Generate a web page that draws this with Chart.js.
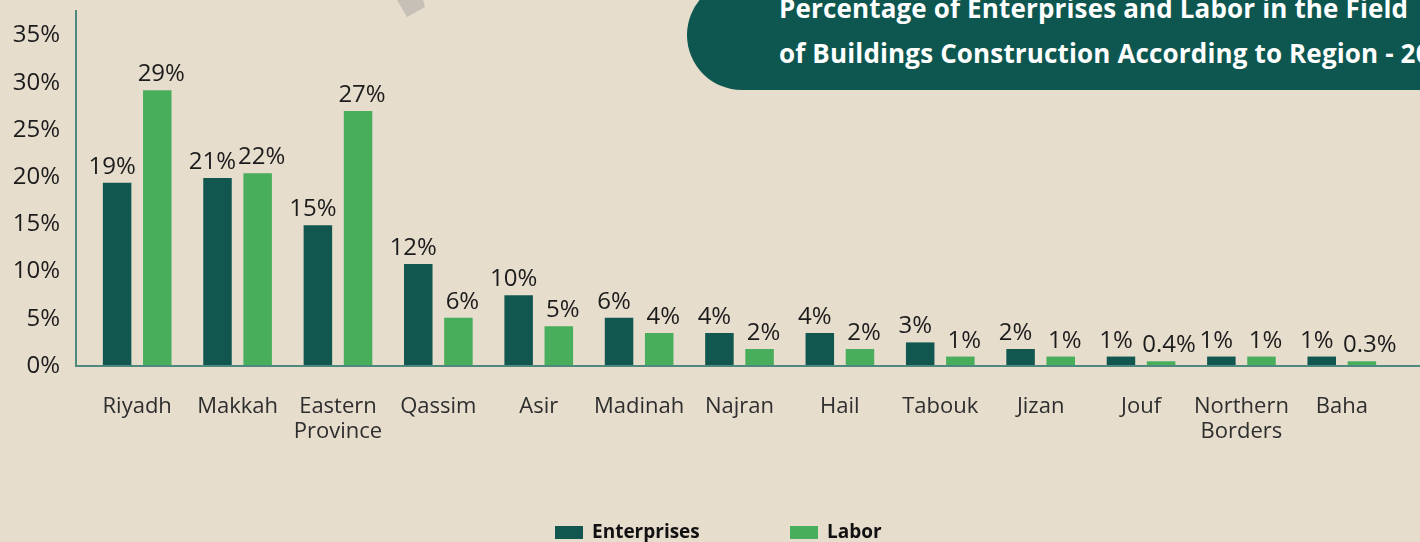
<!DOCTYPE html>
<html>
<head>
<meta charset="utf-8">
<script src="https://cdn.jsdelivr.net/npm/chart.js@4"></script>
<style>
  html, body { margin: 0; padding: 0; background: #e6ddcd; overflow: hidden; }
  #wrap { position: relative; width: 1420px; height: 542px; }
  #title {
    position: absolute; left: 687px; top: -20px; width: 800px; height: 110px;
    background: #0d5750; border-radius: 55px 0 0 55px;
    color: #fff; font-family: "Open Sans", sans-serif; font-weight: 700; font-size: 26px;
    letter-spacing: 0.15px; white-space: nowrap;
  }
  #title div { position: absolute; left: 92px; }
</style>
</head>
<body>
<div id="wrap">
  <canvas id="myChart" width="1420" height="542"></canvas>
  <div id="title">
    <div style="top: 10px;">Percentage of Enterprises and Labor in the Field</div>
    <div style="top: 55px;">of Buildings Construction According to Region - 2023</div>
  </div>
</div>
<script>
var regions = [
  "Riyadh", "Makkah", ["Eastern", "Province"], "Qassim", "Asir", "Madinah",
  "Najran", "Hail", "Tabouk", "Jizan", "Jouf", ["Northern", "Borders"], "Baha"
];
// bar heights as drawn in the picture
var enterprises = [19.4, 19.9, 14.9, 10.8, 7.5, 5.1, 3.5, 3.5, 2.5, 1.8, 1.0, 1.0, 1.0];
var labor = [29.2, 20.4, 27.0, 5.1, 4.2, 3.5, 1.8, 1.8, 1.0, 1.0, 0.5, 1.0, 0.5];
// value labels as printed above the bars
var enterprisesText = ["19%", "21%", "15%", "12%", "10%", "6%", "4%", "4%", "3%", "2%", "1%", "1%", "1%"];
var laborText = ["29%", "22%", "27%", "6%", "5%", "4%", "2%", "2%", "1%", "1%", "0.4%", "1%", "0.3%"];
var yTicks = [0, 5, 10, 15, 20, 25, 30, 35];

var darkGreen = "#11574f";
var lightGreen = "#48ae5c";
var axisColor = "#4d8a7d";

const decoPlugin = {
  id: "deco",
  beforeDraw(chart) {
    const c = chart.ctx;
    c.save();
    c.fillStyle = "#c6c0b6";
    c.beginPath();
    c.moveTo(397, 0);
    c.lineTo(423, 0);
    c.lineTo(425, 7);
    c.lineTo(407, 17);
    c.closePath();
    c.fill();
    c.restore();
  },
  afterDraw(chart) {
    const c = chart.ctx;
    const area = chart.chartArea;
    c.save();
    // axis lines
    c.strokeStyle = axisColor;
    c.lineWidth = 2;
    c.beginPath();
    c.moveTo(76, area.top);
    c.lineTo(76, area.bottom);
    c.lineTo(chart.width, area.bottom);
    c.stroke();

    // value labels, nudged apart like the original
    c.fillStyle = "#1c1c1c";
    c.font = "24px 'Open Sans'";
    c.textAlign = "center";
    c.textBaseline = "alphabetic";
    const texts = [enterprisesText, laborText];
    chart.data.datasets.forEach((ds, di) => {
      chart.getDatasetMeta(di).data.forEach((bar, i) => {
        const t = texts[di][i];
        let dx = di === 0 ? -5 : 4;
        if (di === 1 && t.length > 3) dx = 8;
        c.fillText(t, bar.x + dx, bar.y - 9);
      });
    });

    // legend
    c.font = "bold 19px 'Open Sans'";
    c.textAlign = "left";
    c.textBaseline = "middle";
    const items = [[555, 0], [790, 1]];
    items.forEach(([x, di]) => {
      const ds = chart.data.datasets[di];
      c.fillStyle = ds.backgroundColor;
      c.fillRect(x, 526, 28, 13);
      c.fillStyle = "#111";
      c.fillText(ds.label, x + 37, 533);
    });
    c.restore();
  }
};

function createChart() {
  const ctx = document.getElementById("myChart");
  new Chart(ctx, {
    type: "bar",
    data: {
      labels: regions,
      datasets: [
        {
          label: "Enterprises",
          data: enterprises,
          backgroundColor: darkGreen,
          categoryPercentage: 0.8,
          barPercentage: 0.71,
        },
        {
          label: "Labor",
          data: labor,
          backgroundColor: lightGreen,
          categoryPercentage: 0.8,
          barPercentage: 0.71,
        },
      ],
    },
    options: {
      responsive: false,
      animation: false,
      layout: { padding: { top: 10, right: 28, left: 0, bottom: 0 } },
      plugins: {
        legend: { display: false },
        tooltip: { enabled: false },
      },
      scales: {
        x: {
          grid: { display: false, tickLength: 0 },
          border: { display: false },
          ticks: {
            color: "#2e2e2e",
            font: { family: "Open Sans", size: 22, lineHeight: 1.1 },
            padding: 29,
            maxRotation: 0,
            autoSkip: false,
          },
          afterFit(scale) { scale.height = 176; },
        },
        y: {
          min: 0,
          max: 37.7,
          grid: { display: false, tickLength: 0 },
          border: { display: false },
          afterBuildTicks(scale) {
            scale.ticks = yTicks.map((v) => ({ value: v }));
          },
          ticks: {
            color: "#1c1c1c",
            font: { family: "Open Sans", size: 24 },
            padding: 27,
            callback: (v) => v + "%",
          },
          afterFit(scale) {
            scale.width = 87;
            scale.paddingTop = 0;
            scale.paddingBottom = 0;
          },
        },
      },
    },
    plugins: [decoPlugin],
  });
}

createChart();
</script>
</body>
</html>
